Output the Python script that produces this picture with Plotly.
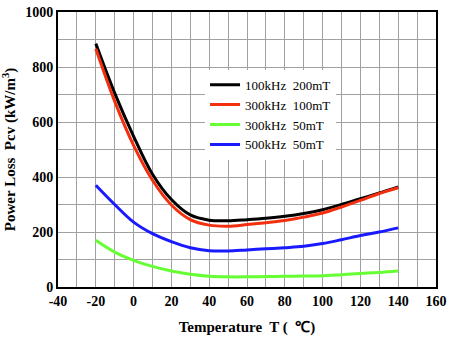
import plotly.graph_objects as go

temps = [-20, -10, 0, 10, 20, 30, 40, 50, 60, 70, 80, 90, 100, 110, 120, 130, 140]
names = ["100kHz  200mT", "300kHz  100mT", "300kHz  50mT", "500kHz  50mT"]
black_vals = [885, 705, 548, 410, 318, 262, 243, 241, 245, 250, 257, 267, 281, 300, 321, 342, 364]
red_vals = [866, 675, 515, 388, 298, 245, 225, 221, 227, 234, 242, 254, 269, 291, 315, 340, 361]
green_vals = [170, 127, 97, 75, 58, 46, 39, 37, 37, 38, 39, 40, 41, 45, 49, 53, 58]
blue_vals = [370, 300, 236, 194, 165, 143, 132, 131, 135, 139, 143, 148, 158, 172, 187, 200, 215]
colors = ["#000000", "#f2300f", "#66ff33", "#1a1aff"]
x_ticks = [-40, -20, 0, 20, 40, 60, 80, 100, 120, 140, 160]
x_tick_labels = ["-40", "-20", "0", "20", "40", "60", "80", "100", "120", "140", "160"]

fig = go.Figure()
for nm, vals, c in zip(names, [black_vals, red_vals, green_vals, blue_vals], colors):
    fig.add_trace(go.Scatter(x=temps, y=vals, mode="lines", name=nm,
                             line=dict(color=c, width=3, shape="spline", smoothing=1.0)))

fig.update_layout(
    width=450, height=337,
    margin=dict(l=58, r=14, t=12, b=50),
    paper_bgcolor="white", plot_bgcolor="white",
    showlegend=True,
    legend=dict(x=0.389, y=0.79, xanchor="left", yanchor="top",
                bgcolor="white", borderwidth=0,
                font=dict(family="Liberation Serif", size=13, color="black"),
                tracegroupgap=0, itemwidth=30),
    xaxis=dict(range=[-40, 160], tickvals=x_ticks, ticktext=x_tick_labels,
               showgrid=True, gridcolor="#a0a0a0", gridwidth=1, automargin=False,
               minor=dict(dtick=10, tick0=0, showgrid=True, gridcolor="#a0a0a0", gridwidth=1),
               showline=True, linecolor="black", linewidth=2, mirror=True,
               ticks="", zeroline=False,
               tickfont=dict(family="Liberation Serif", size=14, color="black", weight="bold"),
               title=dict(text="Temperature  T (  ℃)", standoff=14,
                          font=dict(family="Liberation Serif", size=15, color="black", weight="bold"))),
    yaxis=dict(range=[0, 1000], dtick=200, showgrid=True, automargin=False,
               gridcolor="#a0a0a0", gridwidth=1,
               minor=dict(dtick=100, showgrid=True, gridcolor="#a0a0a0", gridwidth=1),
               showline=True, linecolor="black", linewidth=2, mirror=True,
               ticks="", zeroline=False,
               tickfont=dict(family="Liberation Serif", size=14, color="black", weight="bold"),
               title=dict(text="Power Loss  Pcv (kW/m<sup>3</sup>)", standoff=6,
                          font=dict(family="Liberation Serif", size=15, color="black", weight="bold"))),
)
fig.write_html("out.html")
